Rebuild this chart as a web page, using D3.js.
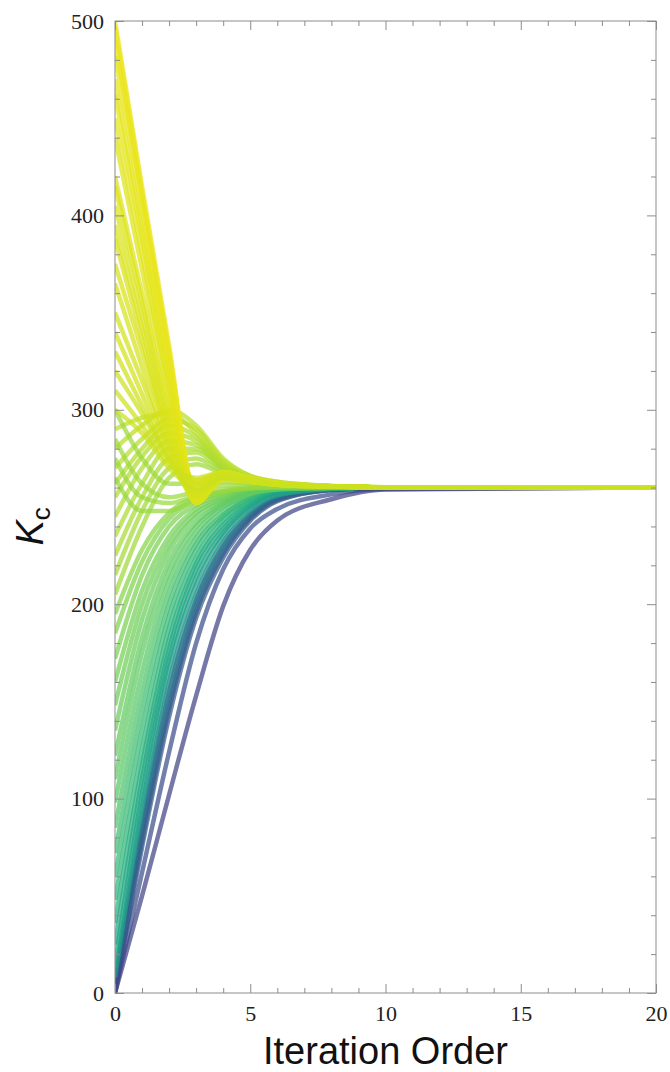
<!DOCTYPE html>
<html>
<head>
<meta charset="utf-8">
<script src="https://cdn.jsdelivr.net/npm/d3@7"></script>
<style>
  body { margin: 0; background: #fff; }
  .axis path { display: none; }
  .axis line { stroke: #8c8c8c; stroke-width: 1; }
  .axis text { font-family: "Liberation Serif", serif; font-size: 22px; fill: #222; }
</style>
</head>
<body>
<div id="chart"></div>
<script>
// iteration orders at which each K_c run is sampled
const iterations = [0, 1, 2, 3, 4, 5, 6, 8, 10, 20];
const xTicks = [0, 5, 10, 15, 20];
const yTicks = [0, 100, 200, 300, 400, 500];

// runs starting high: fall to a dip near order 3, then settle
const yellowRuns = [
    [500, 415, 333, 253, 266, 264, 262, 260.6, 260.2, 260],
    [497, 412, 330, 255, 267, 264, 262, 260.6, 260.2, 260],
    [490, 408, 328, 258, 268, 265, 262, 260.6, 260.2, 260],
    [482, 402, 322, 252, 265, 263, 261.5, 260.5, 260.1, 260],
    [470, 393, 318, 256, 266, 264, 262, 260.6, 260.2, 260],
    [462, 388, 314, 260, 268, 265, 262.5, 260.7, 260.2, 260],
    [450, 380, 310, 254, 265, 263, 261.5, 260.5, 260.1, 260],
    [440, 372, 305, 258, 267, 264, 262, 260.6, 260.2, 260],
    [420, 360, 300, 262, 268, 265, 262.5, 260.7, 260.2, 260],
    [415, 355, 295, 252, 264, 263, 261.5, 260.5, 260.1, 260],
    [405, 348, 292, 257, 266, 264, 262, 260.6, 260.2, 260],
    [395, 342, 290, 264, 268, 265, 262.5, 260.7, 260.2, 260],
    [388, 336, 285, 253, 264, 263, 261.5, 260.5, 260.1, 260],
    [375, 330, 285, 259, 266, 264, 262, 260.6, 260.2, 260],
    [365, 322, 280, 255, 265, 263, 261.5, 260.5, 260.1, 260],
    [350, 315, 280, 262, 267, 264, 262, 260.6, 260.2, 260],
    [340, 308, 276, 256, 265, 263, 261.5, 260.5, 260.1, 260],
    [330, 302, 275, 263, 267, 264, 262, 260.6, 260.2, 260],
    [320, 298, 274, 258, 265, 263, 261.5, 260.5, 260.1, 260],
    [310, 292, 272, 265, 268, 265, 262.5, 260.7, 260.2, 260],
    [300, 288, 270, 260, 265, 263, 261.5, 260.5, 260.1, 260]
];

// mid starts: overshoot above 260 before settling, a few dip first
const lightGreenRuns = [
    [290, 296, 298, 288, 272, 265, 262.5, 260.7, 260.2, 260],
    [280, 292, 300, 292, 275, 266, 263, 260.8, 260.2, 260],
    [270, 285, 295, 290, 274, 266, 263, 260.8, 260.2, 260],
    [262, 280, 292, 286, 272, 265, 262.5, 260.7, 260.2, 260],
    [255, 276, 288, 284, 271, 265, 262.5, 260.7, 260.2, 260],
    [245, 270, 284, 282, 270, 264, 262, 260.6, 260.2, 260],
    [235, 262, 280, 280, 270, 264, 262, 260.6, 260.2, 260],
    [225, 255, 275, 278, 269, 264, 262, 260.6, 260.2, 260],
    [215, 248, 270, 275, 268, 264, 262, 260.6, 260.2, 260],
    [205, 240, 265, 272, 267, 263, 261.5, 260.5, 260.1, 260],
    [300, 275, 262, 262, 263, 262, 261, 260.4, 260.1, 260],
    [285, 262, 255, 258, 261, 261, 260.6, 260.3, 260.1, 260],
    [275, 255, 252, 256, 259, 260, 260.3, 260.2, 260.1, 260],
    [265, 248, 248, 254, 258, 259.5, 260, 260.1, 260, 260]
];

// low starts: rise quickly and monotonically
const greenRuns = [
    [195, 228, 247, 255, 258, 259.3, 259.8, 260, 260, 260],
    [185, 222, 244, 253, 257, 259, 259.7, 260, 260, 260],
    [172, 215, 240, 251, 256, 258.7, 259.6, 260, 260, 260],
    [160, 207, 235, 249, 255, 258.4, 259.5, 259.9, 260, 260],
    [148, 200, 231, 247, 254, 258, 259.4, 259.9, 260, 260],
    [135, 192, 227, 245, 253, 257.6, 259.3, 259.9, 260, 260],
    [122, 183, 222, 242, 252, 257.2, 259.1, 259.8, 260, 260],
    [110, 175, 217, 240, 251, 256.8, 259, 259.8, 260, 260]
];

const tealRuns = [
    [98, 165, 212, 237, 250, 256, 258.8, 259.8, 260, 260],
    [85, 155, 206, 234, 248, 255.5, 258.6, 259.7, 260, 260],
    [72, 145, 200, 231, 246, 254.5, 258.3, 259.7, 260, 260],
    [60, 135, 194, 228, 245, 254, 258, 259.6, 260, 260],
    [48, 125, 188, 224, 243, 253, 257.6, 259.6, 260, 260],
    [36, 117, 182, 221, 241, 252, 257.3, 259.5, 260, 260],
    [25, 110, 177, 218, 239, 251, 257, 259.5, 260, 260],
    [15, 103, 172, 214, 237, 250, 256.5, 259.4, 260, 260],
    [8, 96, 167, 210, 235, 249, 256, 259.3, 260, 260]
];

// slowest runs, all starting near zero
const blueRuns = [
    [5, 90, 160, 205, 232, 247, 255, 259.2, 259.9, 260],
    [3, 85, 155, 202, 230, 246, 254.5, 259, 259.9, 260],
    [2, 82, 150, 199, 228, 245, 254, 258.9, 259.9, 260],
    [1, 78, 146, 196, 226, 244, 253.5, 258.8, 259.8, 260],
    [0, 75, 142, 193, 224, 243, 253, 258.7, 259.8, 260],
    [0, 62, 124, 180, 218, 239, 249, 256.5, 259.2, 260],
    [0, 50, 102, 153, 199, 228, 243, 254, 259, 260]
];

// viridis position range for each group [first run, last run]
const groups = [
    {runs: blueRuns, shade: [0.45, 0.2]},
    {runs: tealRuns, shade: [0.74, 0.56]},
    {runs: greenRuns, shade: [0.82, 0.75]},
    {runs: lightGreenRuns, shade: [0.9, 0.84]},
    {runs: yellowRuns, shade: [0.97, 0.92]}
];

const margin = {top: 21, right: 14, bottom: 79, left: 115};
const width = 670 - margin.left - margin.right;
const height = 1072 - margin.top - margin.bottom;

const svg = d3.select("#chart").append("svg")
    .attr("width", 670)
    .attr("height", 1072)
    .append("g")
    .attr("transform", "translate(" + margin.left + "," + margin.top + ")");

const x = d3.scaleLinear().domain([0, 20]).range([0, width]);
const y = d3.scaleLinear().domain([0, 500]).range([height, 0]);

svg.append("clipPath").attr("id", "plot-clip")
    .append("rect").attr("width", width).attr("height", height);

const line = d3.line()
    .x((d, i) => x(iterations[i]))
    .y(d => y(d))
    .curve(d3.curveMonotoneX);

const lines = svg.append("g").attr("clip-path", "url(#plot-clip)");

groups.forEach(g => {
    const shade = d3.scaleLinear().domain([0, Math.max(1, g.runs.length - 1)]).range(g.shade);
    g.runs.forEach((run, i) => {
        lines.append("path")
            .datum(run)
            .attr("fill", "none")
            .attr("stroke", d3.interpolateViridis(shade(i)))
            .attr("stroke-opacity", 0.72)
            .attr("stroke-width", 4.5)
            .attr("stroke-linejoin", "round")
            .attr("d", line);
    });
});

// frame
svg.append("rect")
    .attr("width", width)
    .attr("height", height)
    .attr("fill", "none")
    .attr("stroke", "#8c8c8c")
    .attr("stroke-width", 1);

const xMinor = d3.range(0, 21, 1).filter(v => v % 5 !== 0);
const yMinor = d3.range(0, 501, 20).filter(v => v % 100 !== 0);

// bottom + top axes, ticks pointing inward
svg.append("g").attr("class", "axis")
    .attr("transform", "translate(0," + height + ")")
    .call(d3.axisBottom(x).tickValues(xTicks).tickSize(-9).tickPadding(12).tickFormat(d3.format("d")));
svg.append("g").attr("class", "axis")
    .attr("transform", "translate(0," + height + ")")
    .call(d3.axisBottom(x).tickValues(xMinor).tickSize(-5).tickFormat(""));
svg.append("g").attr("class", "axis")
    .call(d3.axisTop(x).tickValues(xTicks).tickSize(-9).tickFormat(""));
svg.append("g").attr("class", "axis")
    .call(d3.axisTop(x).tickValues(xMinor).tickSize(-5).tickFormat(""));

// left + right axes
svg.append("g").attr("class", "axis")
    .call(d3.axisLeft(y).tickValues(yTicks).tickSize(-9).tickPadding(11).tickFormat(d3.format("d")));
svg.append("g").attr("class", "axis")
    .call(d3.axisLeft(y).tickValues(yMinor).tickSize(-5).tickFormat(""));
svg.append("g").attr("class", "axis")
    .attr("transform", "translate(" + width + ",0)")
    .call(d3.axisRight(y).tickValues(yTicks).tickSize(-9).tickFormat(""));
svg.append("g").attr("class", "axis")
    .attr("transform", "translate(" + width + ",0)")
    .call(d3.axisRight(y).tickValues(yMinor).tickSize(-5).tickFormat(""));

// axis titles
svg.append("text")
    .attr("x", width / 2)
    .attr("y", height + 71)
    .attr("text-anchor", "middle")
    .style("font-family", "'Liberation Sans', Arial, sans-serif")
    .style("font-size", "38px")
    .style("fill", "#111")
    .text("Iteration Order");

const kLabel = svg.append("text")
    .attr("transform", "translate(" + (-72) + "," + (y(240)) + ") rotate(-90)")
    .attr("text-anchor", "middle")
    .style("font-family", "'Liberation Sans', Arial, sans-serif")
    .style("font-size", "38px")
    .style("fill", "#111");
kLabel.append("tspan").style("font-style", "italic").text("K");
kLabel.append("tspan").attr("dy", 7).style("font-size", "26px").text("c");
</script>
</body>
</html>
